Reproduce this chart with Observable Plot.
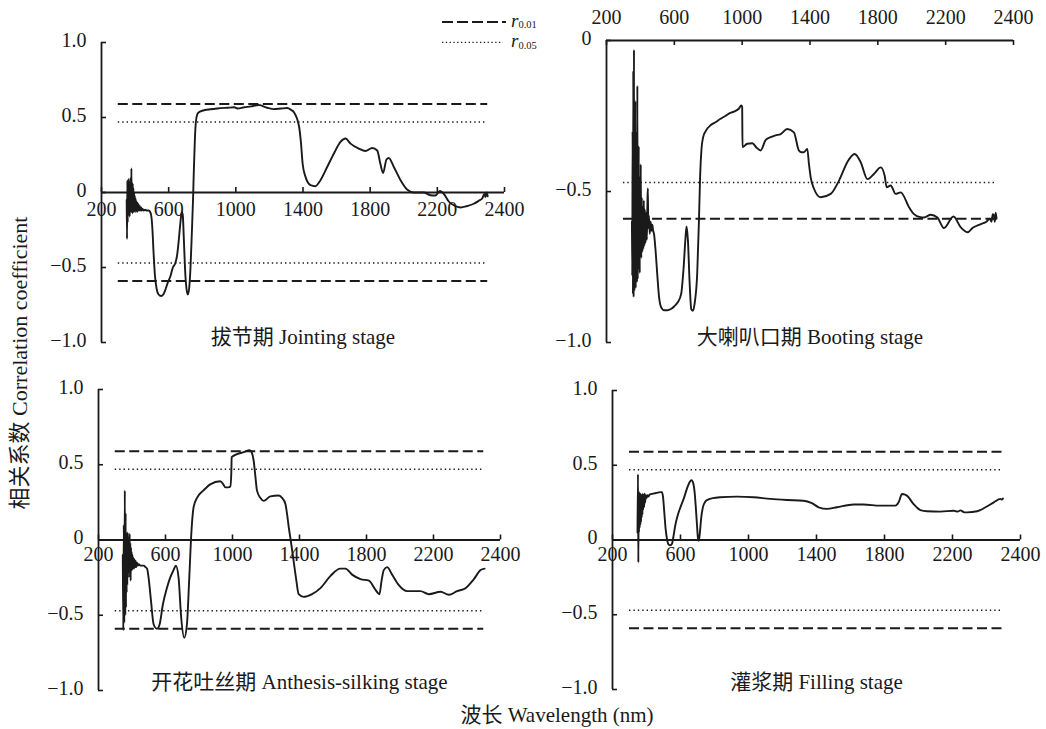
<!DOCTYPE html>
<html>
<head>
<meta charset="utf-8">
<script src="https://cdn.jsdelivr.net/npm/d3@7"></script>
<script src="https://cdn.jsdelivr.net/npm/@observablehq/plot@0.6"></script>
<style>
  html, body { margin: 0; padding: 0; background: #fff; }
  #fig { position: relative; width: 1046px; height: 729px; overflow: hidden; }
  #fig > svg { position: absolute; }
</style>
</head>
<body>
<div id="fig"></div>
<script>
// ---------------- DATA ----------------
const stageLabels = ["拔节期 Jointing stage", "大喇叭口期 Booting stage", "开花吐丝期 Anthesis-silking stage", "灌浆期 Filling stage"];
const xTitle = "波长 Wavelength (nm)";
const yTitle = "相关系数 Correlation coefficient";
const xTicks = [200, 600, 1000, 1400, 1800, 2200, 2600];
const xTickLabels = ["200", "600", "1000", "1400", "1800", "2200", "2400"];
const yTicksFull = [-1, -0.5, 0, 0.5, 1];
const yTickLabelsFull = ["−1.0", "−0.5", "0", "0.5", "1.0"];
const yTicksNeg = [-1, -0.5, 0];
const yTickLabelsNeg = ["−1.0", "−0.5", "0"];
const r001 = 0.59;   // r0.01 critical value
const r005 = 0.47;   // r0.05 critical value
const rLineSpan = [300, 2500];
const legendLabels = ["0.01", "0.05"];

const jointingWl = [350,352,354,356,358,360,362,364,366,368,370,372,374,376,378,380,382,384,386,388,390,392,394,396,398,400,403,406,409,412,415,418,421,424,428,432,436,440,445,450,460,470,480,490,497,503,510,518,528,540,555,568,580,595,610,625,640,650,660,670,678,684,690,698,706,714,722,730,738,745,750,756,762,770,780,800,850,890,950,990,1010,1050,1090,1137,1187,1226,1270,1306,1330,1345,1358,1368,1378,1388,1398,1415,1445,1474,1504,1544,1584,1623,1653,1683,1732,1772,1812,1842,1861,1877,1897,1911,1941,1981,2020,2060,2119,2159,2189,2215,2239,2268,2298,2338,2378,2417,2447,2467,2475,2481,2487,2493,2500];
const jointingR = [-0.05,-0.31,0.08,-0.2,0.05,-0.15,0.09,-0.12,0.04,-0.16,0.07,-0.1,0.1,-0.13,0.16,-0.12,0.05,-0.14,0.06,-0.12,0.03,-0.13,0.0,-0.12,-0.02,-0.13,-0.04,-0.12,-0.06,-0.13,-0.07,-0.12,-0.08,-0.12,-0.09,-0.12,-0.1,-0.12,-0.11,-0.12,-0.115,-0.12,-0.12,-0.13,-0.16,-0.24,-0.4,-0.55,-0.64,-0.68,-0.69,-0.68,-0.65,-0.6,-0.56,-0.5,-0.47,-0.42,-0.32,-0.2,-0.13,-0.15,-0.3,-0.52,-0.64,-0.68,-0.64,-0.5,-0.27,-0.05,0.15,0.35,0.47,0.52,0.535,0.545,0.555,0.56,0.565,0.568,0.56,0.568,0.574,0.583,0.565,0.556,0.56,0.563,0.55,0.537,0.51,0.48,0.43,0.33,0.19,0.104,0.049,0.042,0.082,0.17,0.26,0.337,0.36,0.326,0.293,0.277,0.297,0.28,0.19,0.13,0.22,0.23,0.17,0.082,0.02,0.0,0.0,-0.018,-0.02,0.01,-0.01,-0.06,-0.085,-0.1,-0.09,-0.075,-0.055,-0.04,-0.02,-0.01,-0.03,0.0,-0.025];

const bootingWl = [350,352,354,356,358,360,362,364,366,368,370,372,374,376,378,380,382,384,386,388,390,392,394,396,398,400,402,405,408,411,414,417,420,423,426,430,434,438,442,444,446,450,455,460,465,470,475,480,490,500,510,520,540,560,580,600,620,640,655,665,672,680,690,700,710,720,735,745,752,760,770,785,815,845,870,900,930,955,980,995,1000,1002,1030,1060,1085,1109,1138,1168,1197,1227,1266,1305,1335,1350,1364,1384,1394,1404,1423,1463,1522,1571,1620,1663,1699,1739,1777,1817,1840,1852,1876,1905,1935,1984,2013,2050,2072,2112,2151,2190,2246,2289,2328,2360,2407,2440,2460,2470,2478,2485,2490,2495,2500];
const bootingR = [-0.6,-0.78,-0.3,-0.84,-0.1,-0.85,-0.03,-0.83,-0.4,-0.8,-0.2,-0.82,-0.45,-0.78,-0.3,-0.8,-0.15,-0.79,-0.5,-0.76,-0.35,-0.75,-0.5,-0.77,-0.45,-0.72,-0.41,-0.72,-0.52,-0.7,-0.55,-0.69,-0.53,-0.68,-0.56,-0.67,-0.57,-0.66,-0.52,-0.49,-0.62,-0.58,-0.64,-0.6,-0.63,-0.61,-0.63,-0.64,-0.7,-0.78,-0.85,-0.88,-0.893,-0.893,-0.889,-0.88,-0.867,-0.84,-0.75,-0.66,-0.616,-0.66,-0.8,-0.89,-0.895,-0.87,-0.77,-0.6,-0.45,-0.36,-0.32,-0.3,-0.28,-0.27,-0.26,-0.25,-0.24,-0.235,-0.226,-0.215,-0.22,-0.353,-0.342,-0.34,-0.355,-0.364,-0.33,-0.32,-0.314,-0.31,-0.293,-0.304,-0.365,-0.37,-0.37,-0.359,-0.41,-0.453,-0.49,-0.519,-0.508,-0.464,-0.403,-0.376,-0.403,-0.459,-0.442,-0.42,-0.447,-0.486,-0.48,-0.508,-0.503,-0.552,-0.575,-0.585,-0.586,-0.577,-0.586,-0.621,-0.583,-0.619,-0.635,-0.62,-0.608,-0.6,-0.59,-0.6,-0.575,-0.58,-0.6,-0.57,-0.59];

const anthesisWl = [345,348,351,354,357,360,362,364,366,368,370,372,374,376,378,380,382,384,386,388,390,392,394,396,398,400,403,406,409,412,415,418,422,426,430,435,440,450,460,470,480,490,499,513,529,549,565,584,608,628,648,662,678,694,712,728,742,754,768,788,827,867,927,945,957,975,987,993,995,1027,1067,1102,1115,1126,1136,1146,1166,1186,1226,1276,1296,1316,1326,1336,1350,1365,1380,1395,1425,1475,1525,1584,1644,1674,1714,1764,1814,1853,1877,1890,1903,1923,1953,1993,2043,2122,2172,2242,2292,2341,2391,2441,2481,2505];
const anthesisR = [-0.1,-0.6,0.1,-0.55,0.33,-0.5,0.18,-0.45,0.05,-0.35,0.0,-0.3,0.05,-0.25,0.0,-0.22,0.02,-0.2,0.04,-0.25,-0.02,-0.27,-0.05,-0.2,-0.08,-0.2,-0.1,-0.19,-0.12,-0.19,-0.13,-0.18,-0.14,-0.18,-0.15,-0.17,-0.16,-0.17,-0.17,-0.17,-0.18,-0.19,-0.25,-0.4,-0.56,-0.59,-0.56,-0.43,-0.32,-0.25,-0.2,-0.17,-0.25,-0.52,-0.65,-0.56,-0.25,0.04,0.22,0.28,0.33,0.37,0.39,0.37,0.35,0.35,0.356,0.45,0.55,0.57,0.584,0.596,0.58,0.53,0.43,0.33,0.28,0.26,0.29,0.296,0.28,0.24,0.17,0.084,-0.02,-0.14,-0.26,-0.36,-0.378,-0.36,-0.32,-0.24,-0.19,-0.19,-0.23,-0.26,-0.27,-0.33,-0.36,-0.27,-0.2,-0.18,-0.23,-0.3,-0.34,-0.34,-0.36,-0.344,-0.364,-0.34,-0.32,-0.26,-0.2,-0.19];

const fillingWl = [347,350,352,354,356,358,360,362,364,366,368,370,372,374,376,378,380,383,386,389,392,395,400,405,410,420,440,460,480,490,497,505,512,520,530,540,550,558,568,585,600,620,640,655,665,675,683,690,697,703,708,714,722,732,745,765,790,834,932,1030,1128,1226,1324,1373,1413,1462,1520,1619,1677,1775,1864,1883,1903,1932,1971,2011,2050,2129,2207,2230,2247,2270,2286,2345,2394,2443,2482,2490,2497];
const fillingR = [0.05,0.44,-0.15,0.3,0.05,0.32,0.08,0.3,0.1,0.31,0.12,0.3,0.15,0.3,0.17,0.31,0.2,0.3,0.22,0.31,0.25,0.3,0.28,0.3,0.29,0.305,0.31,0.315,0.32,0.32,0.29,0.18,0.08,0.01,-0.03,-0.035,-0.025,0.02,0.09,0.17,0.22,0.28,0.35,0.39,0.4,0.38,0.32,0.22,0.1,0.01,-0.005,0.05,0.15,0.22,0.255,0.272,0.28,0.286,0.29,0.286,0.275,0.268,0.263,0.246,0.219,0.208,0.219,0.237,0.237,0.23,0.23,0.252,0.308,0.297,0.24,0.2,0.192,0.19,0.196,0.19,0.198,0.185,0.185,0.192,0.219,0.252,0.275,0.27,0.278];

// ---------------- LAYOUT / STYLE ----------------
const FONT = '"Liberation Serif", "Times New Roman", "Noto Sans CJK SC", serif';
const INK = "#1a1a1a";
const xDomain = [200, 2600];

const panels = [
  {wl: jointingWl, r: jointingR, label: stageLabels[0], left: 0, top: 0, width: 523, height: 362,
   margin: [42, 19, 20, 101], yDomain: [-1, 1], yTicks: yTicksFull, yLabels: yTickLabelsFull,
   xLabelSide: "below", xLabelDy: 9, labelDy: 1},
  {wl: bootingWl, r: bootingR, label: stageLabels[1], left: 523, top: 0, width: 523, height: 362,
   margin: [40, 33, 20, 83], yDomain: [-1, 0], yTicks: yTicksNeg, yLabels: yTickLabelsNeg,
   xLabelSide: "above", xLabelDy: -17, labelDy: 1},
  {wl: anthesisWl, r: anthesisR, label: stageLabels[2], left: 0, top: 362, width: 523, height: 367,
   margin: [27, 23, 39, 98], yDomain: [-1, 1], yTicks: yTicksFull, yLabels: yTickLabelsFull,
   xLabelSide: "below", xLabelDy: 7, labelDy: -2},
  {wl: fillingWl, r: fillingR, label: stageLabels[3], left: 523, top: 362, width: 523, height: 367,
   margin: [28, 26, 40, 89], yDomain: [-1, 1], yTicks: yTicksFull, yLabels: yTickLabelsFull,
   xLabelSide: "below", xLabelDy: 7, labelDy: -1}
];

function makePanel(cfg) {
  const [mt, mr, mb, ml] = cfg.margin;
  const data = cfg.wl.map((w, i) => ({w, r: cfg.r[i]}));
  const [y0, y1] = cfg.yDomain;
  const yPerPx = (y1 - y0) / (cfg.height - mt - mb);
  const xPerPx = (xDomain[1] - xDomain[0]) / (cfg.width - ml - mr);
  const tickY = 5 * yPerPx * (cfg.xLabelSide === "above" ? -1 : 1);
  const tickX = 5 * xPerPx;
  const inDomain = v => v >= y0 && v <= y1;
  const dashed = [r001, -r001].filter(inDomain);
  const dotted = [r005, -r005].filter(inDomain);
  const xt = xTicks.map((v, i) => ({v, label: xTickLabels[i]}));
  const yt = cfg.yTicks.map((v, i) => ({v, label: cfg.yLabels[i]}));

  const svg = Plot.plot({
    width: cfg.width, height: cfg.height,
    marginTop: mt, marginRight: mr, marginBottom: mb, marginLeft: ml,
    x: {domain: xDomain, axis: null},
    y: {domain: cfg.yDomain, axis: null},
    style: {fontFamily: FONT, fontSize: "20px", color: INK, background: "transparent", overflow: "visible"},
    marks: [
      Plot.ruleY(dashed, {y: d => d, x1: () => rLineSpan[0], x2: () => rLineSpan[1],
        stroke: INK, strokeWidth: 2, strokeDasharray: "10,4.5"}),
      Plot.ruleY(dotted, {y: d => d, x1: () => rLineSpan[0], x2: () => rLineSpan[1],
        stroke: INK, strokeWidth: 1.4, strokeDasharray: "1.4,3"}),
      // axes
      Plot.ruleX([xDomain[0]], {x: d => d, y1: () => y0, y2: () => y1, stroke: INK, strokeWidth: 1.8}),
      Plot.ruleY([0], {y: d => d, x1: () => xDomain[0], x2: () => xDomain[1], stroke: INK, strokeWidth: 1.8}),
      Plot.ruleX(xt, {x: "v", y1: () => 0, y2: () => tickY, stroke: INK, strokeWidth: 1.6}),
      Plot.ruleY(yt, {y: "v", x1: () => xDomain[0], x2: () => xDomain[0] + tickX, stroke: INK, strokeWidth: 1.6}),
      Plot.text(xt, {x: "v", y: () => 0, text: "label", dy: cfg.xLabelDy,
        lineAnchor: cfg.xLabelSide === "above" ? "bottom" : "top", fontSize: 20, fill: INK}),
      Plot.text(yt, {x: () => xDomain[0], y: "v", text: "label", textAnchor: "end",
        dx: -15, dy: -2, fontSize: 20, fill: INK}),
      // curve
      Plot.line(data, {x: "w", y: "r", stroke: INK, strokeWidth: 1.9, strokeLinejoin: "round", curve: "monotone-x"}),
      // stage label
      Plot.text([cfg.label], {frameAnchor: "bottom", lineAnchor: "bottom", dy: cfg.labelDy,
        fontSize: 21, fill: INK})
    ]
  });
  svg.style.left = cfg.left + "px";
  svg.style.top = cfg.top + "px";
  return svg;
}

const fig = document.getElementById("fig");
panels.forEach(p => fig.appendChild(makePanel(p)));

// overlay: axis titles + legend
const ns = "http://www.w3.org/2000/svg";
const ov = document.createElementNS(ns, "svg");
ov.setAttribute("width", 1046);
ov.setAttribute("height", 729);
ov.style.left = "0px"; ov.style.top = "0px";
ov.style.fontFamily = FONT;
ov.innerHTML = `
  <text transform="translate(19,363) rotate(-90)" text-anchor="middle" dominant-baseline="central" font-size="22" fill="${INK}">${yTitle}</text>
  <text x="557" y="722" text-anchor="middle" font-size="21" fill="${INK}">${xTitle}</text>
  <line x1="442" x2="506" y1="22" y2="22" stroke="${INK}" stroke-width="1.8" stroke-dasharray="11,4"/>
  <line x1="442" x2="503" y1="42.3" y2="42.3" stroke="${INK}" stroke-width="1.3" stroke-dasharray="1.3,2.5"/>
  <text x="511" y="26.5" font-size="19" font-style="italic" fill="${INK}">r<tspan font-size="10.5" font-style="normal" dy="1.5">${legendLabels[0]}</tspan></text>
  <text x="511" y="46.8" font-size="19" font-style="italic" fill="${INK}">r<tspan font-size="10.5" font-style="normal" dy="1.8">${legendLabels[1]}</tspan></text>
`;
fig.appendChild(ov);
</script>
</body>
</html>
